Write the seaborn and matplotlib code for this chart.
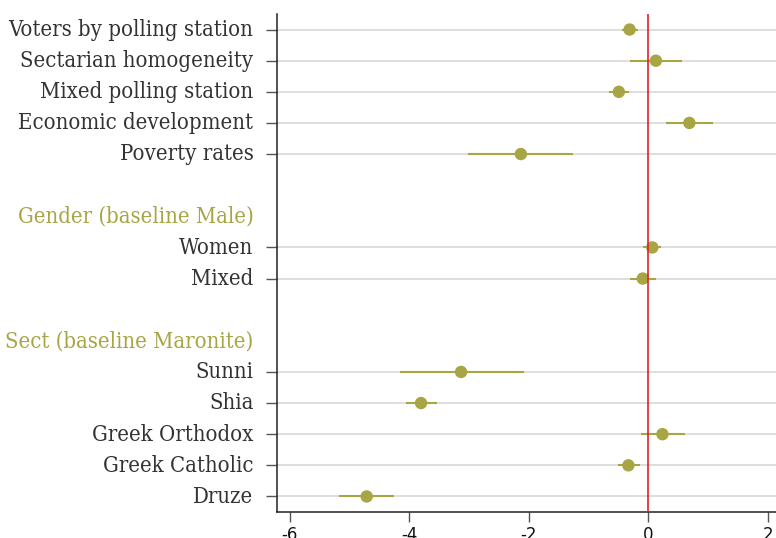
import matplotlib
matplotlib.use("Agg")
import matplotlib.pyplot as plt
from matplotlib import font_manager
import matplotlib.transforms as mtransforms
import seaborn as sns
import pandas as pd

# Row labels from top to bottom; None marks an empty spacer row
row_labels = [
    "Voters by polling station", "Sectarian homogeneity", "Mixed polling station",
    "Economic development", "Poverty rates", None,
    "Gender (baseline Male)", "Women", "Mixed", None,
    "Sect (baseline Maronite)", "Sunni", "Shia", "Greek Orthodox",
    "Greek Catholic", "Druze",
]
header_labels = ["Gender (baseline Male)", "Sect (baseline Maronite)"]

# Coefficient estimates and 95% intervals for each term
terms = [
    "Voters by polling station", "Sectarian homogeneity", "Mixed polling station",
    "Economic development", "Poverty rates", "Women", "Mixed",
    "Sunni", "Shia", "Greek Orthodox", "Greek Catholic", "Druze",
]
estimate = [-0.31, 0.13, -0.49, 0.69, -2.13, 0.07, -0.09, -3.13, -3.80, 0.24, -0.33, -4.71]
ci_low = [-0.43, -0.31, -0.66, 0.30, -3.01, -0.08, -0.31, -4.16, -4.06, -0.12, -0.50, -5.17]
ci_high = [-0.17, 0.57, -0.32, 1.08, -1.25, 0.22, 0.13, -2.08, -3.54, 0.61, -0.14, -4.25]

x_ticks = [-6, -4, -2, 0, 2]

olive = "#a8a544"
text_dark = "#333333"

# Condensed serif face for the row labels, if available
cond_path = None
for f in font_manager.findSystemFonts():
    name = f.replace("\\", "/").split("/")[-1]
    if name == "DejaVuSerifCondensed.ttf":
        cond_path = f
        break
if cond_path:
    label_font = font_manager.FontProperties(fname=cond_path, size=15.8)
else:
    label_font = font_manager.FontProperties(family="Liberation Serif", size=16)

pos = {lab: i for i, lab in enumerate(row_labels) if lab is not None}
df = pd.DataFrame({
    "term": terms,
    "estimate": estimate,
    "low": ci_low,
    "high": ci_high,
})
df["row"] = df["term"].map(pos)

sns.set_style("white")
plt.rcParams["font.family"] = ["DejaVu Sans"]

fig = plt.figure(figsize=(7.76, 5.38), dpi=100)
ax = fig.add_axes([0.357, 0.0483, 0.643, 0.9257])

# Confidence intervals, then point estimates
ax.hlines(df["row"], df["low"], df["high"], color=olive, linewidth=1.5, zorder=3)
sns.scatterplot(data=df, x="estimate", y="row", color=olive, s=80,
                edgecolor="none", ax=ax, zorder=4, legend=False)

# Reference line at zero
ax.axvline(0, color="#e0202a", linewidth=1.2, zorder=5)

label_rows = [i for i, lab in enumerate(row_labels) if lab is not None]
ax.set_yticks(label_rows)
ax.set_yticklabels([row_labels[i] for i in label_rows], fontproperties=label_font)
ax.set_ylim(15.5, -0.5)
ax.set_xlim(-6.21, 2.14)
ax.set_xticks(x_ticks)
ax.set_xticklabels([str(t) for t in x_ticks])

ax.tick_params(axis="y", length=8, width=1, color="#555555", pad=9,
               labelcolor=text_dark, direction="out", left=True)
ax.tick_params(axis="x", length=7, width=1, color="#555555", pad=3,
               labelsize=12, labelcolor="#111111", direction="out", bottom=True)

ax.grid(axis="y", color="#d4d4d4", linewidth=1.1, zorder=0)
ax.grid(axis="x", visible=False)
ax.set_axisbelow(True)

# Nudge row labels up slightly so they sit centred on their rows
nudge = mtransforms.ScaledTranslation(0, 1.5 / 72, fig.dpi_scale_trans)
for lbl in ax.get_yticklabels():
    lbl.set_transform(lbl.get_transform() + nudge)

# Group headings: no tick mark, no gridline, olive text
for tick, lab in zip(ax.yaxis.get_major_ticks(), [row_labels[i] for i in label_rows]):
    if lab in header_labels:
        tick.tick1line.set_visible(False)
        tick.gridline.set_visible(False)
        tick.label1.set_color(olive)

for side in ["top", "right"]:
    ax.spines[side].set_visible(False)
for side in ["left", "bottom"]:
    ax.spines[side].set_color("#222222")
    ax.spines[side].set_linewidth(1.1)

ax.set_xlabel("")
ax.set_ylabel("")

fig.savefig("out.png", dpi=100)
